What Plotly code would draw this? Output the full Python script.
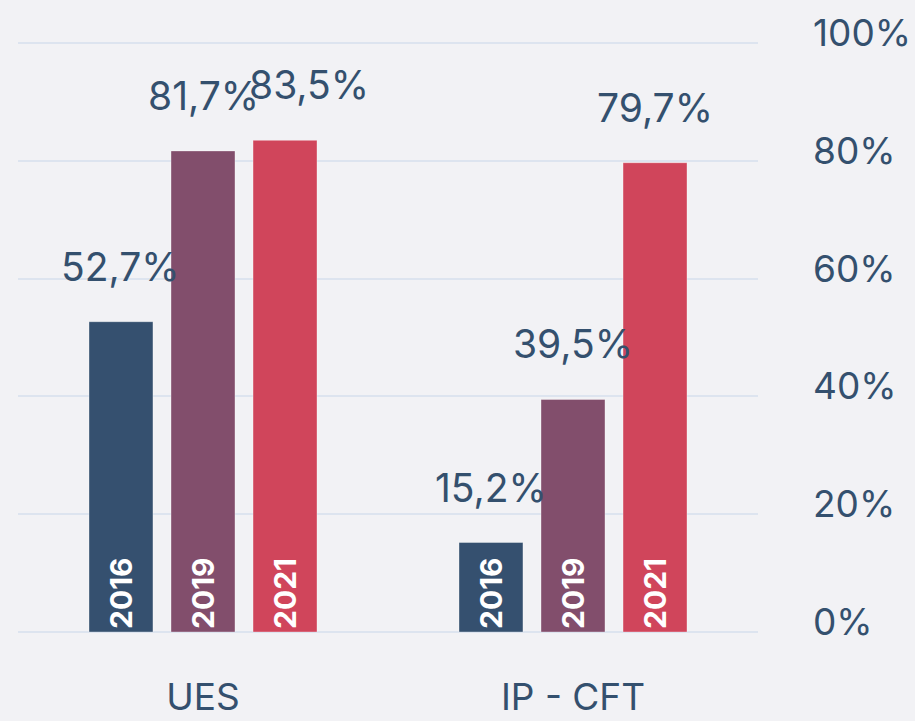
import plotly.graph_objects as go

# Data
categories = ["UES", "IP - CFT"]
years = ["2016", "2019", "2021"]
values_2016 = [52.7, 15.2]
values_2019 = [81.7, 39.5]
values_2021 = [83.5, 79.7]
series = [values_2016, values_2019, values_2021]
y_ticks = [0, 20, 40, 60, 80, 100]
y_tick_labels = ["0%", "20%", "40%", "60%", "80%", "100%"]

# Styling
colors = ["#35506f", "#824e6c", "#d0455b"]
text_color = "#34506e"
bg = "#f2f2f5"
grid_color = "#dde4ef"
font_family = "Inter, Roboto, sans-serif"

# Layout geometry (pixels)
W, H = 915, 721
margin = dict(l=18, r=157, t=42, b=89)
bargap = 0.335
bargroupgap = 0.22
plot_w = W - margin["l"] - margin["r"]
slot_px = plot_w / len(categories) * (1 - bargap) / len(years)

# small horizontal nudges for value labels that would otherwise collide
label_nudge = {("UES", "2021"): 24}

fig = go.Figure()
for year, vals, col in zip(years, series, colors):
    fig.add_trace(go.Bar(
        name=year,
        x=categories,
        y=vals,
        marker=dict(color=col, line=dict(color="rgba(255,255,255,0.35)", width=1)),
        text=[year] * len(vals),
        textposition="inside",
        insidetextanchor="start",
        textangle=-90,
        textfont=dict(family="Inter, Roboto, sans-serif", size=30, color="white", weight="bold"),
        constraintext="none",
        hoverinfo="skip",
    ))

# Value labels above bars
annotations = []
for i, (year, vals) in enumerate(zip(years, series)):
    offset = (i - (len(years) - 1) / 2) * slot_px
    for cat, v in zip(categories, vals):
        annotations.append(dict(
            x=cat, y=v, xref="x", yref="y",
            text=f"{v:.1f}%".replace(".", ","),
            showarrow=False,
            xanchor="center", yanchor="bottom",
            xshift=offset + label_nudge.get((cat, year), 0),
            yshift=30,
            font=dict(family=font_family, size=39, color=text_color),
        ))

fig.update_layout(
    width=W, height=H,
    margin=margin,
    paper_bgcolor=bg,
    plot_bgcolor=bg,
    barmode="group",
    bargap=bargap,
    bargroupgap=bargroupgap,
    showlegend=False,
    annotations=annotations,
    font=dict(family=font_family, color=text_color),
)
fig.update_xaxes(
    automargin=False,
    showgrid=False,
    zeroline=False,
    showline=False,
    ticks="",
    ticklabelstandoff=40,
    tickfont=dict(family=font_family, size=37, color=text_color),
)
fig.update_yaxes(
    automargin=False,
    side="right",
    range=[0, 100.2],
    tickvals=y_ticks,
    ticktext=y_tick_labels,
    showgrid=True,
    gridcolor=grid_color,
    gridwidth=2,
    zeroline=True,
    zerolinecolor=grid_color,
    zerolinewidth=2,
    showline=False,
    ticks="",
    ticklabelstandoff=54,
    ticklabelshift=-10,
    tickfont=dict(family=font_family, size=37, color=text_color),
)

fig.write_html("out.html")
